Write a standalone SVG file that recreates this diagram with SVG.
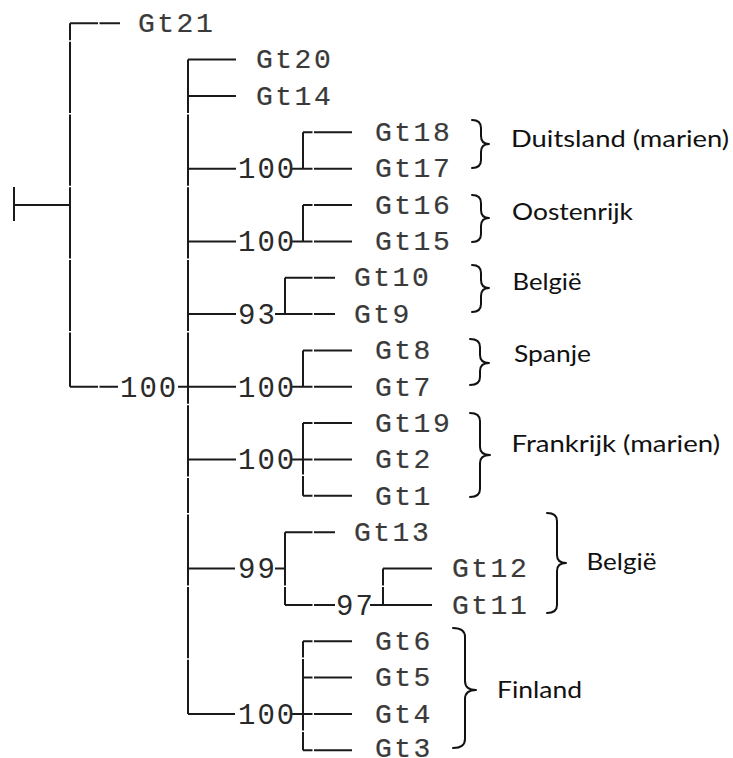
<svg xmlns="http://www.w3.org/2000/svg" width="733" height="758" viewBox="0 0 733 758">
  <style>
    .br { fill: none; stroke: #1a1a1a; stroke-width: 2; stroke-linecap: butt; }
    .brace { fill: none; stroke: #111; stroke-width: 2; stroke-linecap: round; stroke-linejoin: round; }
    .tip { font-family: "Liberation Mono", "DejaVu Sans Mono", monospace; font-size: 28px; letter-spacing: 2.5px; fill: #3a3a3a; stroke: #3a3a3a; stroke-width: 0.2px; }
    .bs { font-family: "Liberation Mono", "DejaVu Sans Mono", monospace; font-size: 29px; letter-spacing: 2px; fill: #2a2a2a; }
    .grp { font-family: Lato, "Open Sans", "Liberation Sans", sans-serif; font-size: 23px; fill: #111; }
  </style>
  <rect width="733" height="758" fill="#fff"/>

  <!-- tree branches -->
  <g id="connectors" class="br">
    <!-- root stub -->
    <path d="M14 187 V221 M14 205 H70"/>
    <!-- outer vertical -->
    <path d="M70 23.3 V40.3 M70 41.8 V113 M70 114.5 V185.7 M70 187.2 V258.4 M70 259.9 V331.1 M70 332.6 V386.8"/>
    <path d="M70 23.3 H98 M99.5 23.3 H120"/>
    <path d="M70 386.8 H98 M99.5 386.8 H118 M178 386.8 H236"/>
    <!-- inner vertical -->
    <path d="M188 59.6 V113 M188 114.5 V185.7 M188 187.2 V258.4 M188 259.9 V331.1 M188 332.6 V403.8 M188 405.3 V476.5 M188 478 V512.9 M188 514.4 V585.6 M188 587.1 V658.3 M188 659.8 V714"/>
    <path d="M188 59.6 H236 M188 96 H236"/>
    <!-- Gt18 / Gt17 -->
    <path d="M188 168.7 H236 M291 168.7 H312.5 M314 168.7 H352 M303 132.3 V168.7 M303 132.3 H312.5 M314 132.3 H352"/>
    <!-- Gt16 / Gt15 -->
    <path d="M188 241.4 H236 M291 241.4 H312.5 M314 241.4 H352 M303 205 V241.4 M303 205 H312.5 M314 205 H352"/>
    <!-- Gt10 / Gt9 -->
    <path d="M188 314.1 H236 M275 314.1 H312.5 M314 314.1 H335 M285 277.7 V314.1 M285 277.7 H312.5 M314 277.7 H335"/>
    <!-- Gt8 / Gt7 -->
    <path d="M291 386.8 H312.5 M314 386.8 H352 M303 350.4 V386.8 M303 350.4 H312.5 M314 350.4 H352"/>
    <!-- Gt19 / Gt2 / Gt1 -->
    <path d="M188 459.5 H236 M291 459.5 H312.5 M314 459.5 H352 M303 423.1 V474.5 M303 476 V495.8 M303 423.1 H312.5 M314 423.1 H352 M303 495.8 H312.5 M314 495.8 H352"/>
    <!-- Gt13 / (Gt12, Gt11) -->
    <path d="M188 568.5 H235 M275 568.5 H285 M285 532.2 V585.6 M285 587.1 V604.9 M285 532.2 H312.5 M314 532.2 H335 M285 604.9 H312.5 M314 604.9 H335"/>
    <path d="M370 604.9 H432 M383 568.5 V585.6 M383 587.1 V604.9 M383 568.5 H432"/>
    <!-- Gt6 / Gt5 / Gt4 / Gt3 -->
    <path d="M188 714 H235 M291 714 H312.5 M314 714 H352 M303 641.2 V657.5 M303 659 V730.5 M303 732 V750.3 M303 641.2 H312.5 M314 641.2 H352 M303 677.6 H312.5 M314 677.6 H352 M303 750.3 H312.5 M314 750.3 H352"/>
  </g>

  <!-- support values -->
  <g id="support">
    <text class="bs" x="120" y="396.5">100</text>
    <text class="bs" x="238" y="178.4">100</text>
    <text class="bs" x="238" y="251.1">100</text>
    <text class="bs" x="238" y="323.8">93</text>
    <text class="bs" x="238" y="396.5">100</text>
    <text class="bs" x="238" y="469.2">100</text>
    <text class="bs" x="238" y="578.2">99</text>
    <text class="bs" x="336" y="614.6">97</text>
    <text class="bs" x="238" y="723.7">100</text>
  </g>

  <!-- leaves -->
  <g id="leaves">
    <text id="Gt21" class="tip" x="138" y="32">Gt21</text>
    <text id="Gt20" class="tip" x="256" y="68.3">Gt20</text>
    <text id="Gt14" class="tip" x="256" y="104.7">Gt14</text>
    <text id="Gt18" class="tip" x="375" y="141">Gt18</text>
    <text id="Gt17" class="tip" x="375" y="177.4">Gt17</text>
    <text id="Gt16" class="tip" x="375" y="213.7">Gt16</text>
    <text id="Gt15" class="tip" x="375" y="250.1">Gt15</text>
    <text id="Gt10" class="tip" x="354" y="286.4">Gt10</text>
    <text id="Gt9" class="tip" x="354" y="322.8">Gt9</text>
    <text id="Gt8" class="tip" x="375" y="359.1">Gt8</text>
    <text id="Gt7" class="tip" x="375" y="395.5">Gt7</text>
    <text id="Gt19" class="tip" x="375" y="431.8">Gt19</text>
    <text id="Gt2" class="tip" x="375" y="468.2">Gt2</text>
    <text id="Gt1" class="tip" x="375" y="504.5">Gt1</text>
    <text id="Gt13" class="tip" x="354" y="540.9">Gt13</text>
    <text id="Gt12" class="tip" x="452" y="577.2">Gt12</text>
    <text id="Gt11" class="tip" x="452" y="613.6">Gt11</text>
    <text id="Gt6" class="tip" x="375" y="649.9">Gt6</text>
    <text id="Gt5" class="tip" x="375" y="686.3">Gt5</text>
    <text id="Gt4" class="tip" x="375" y="722.6">Gt4</text>
    <text id="Gt3" class="tip" x="375" y="757">Gt3</text>
  </g>

  <!-- regional groupings -->
  <g id="group-duitsland">
    <path class="brace" d="M472 120 Q481 120 481 128 V136 Q481 144 489 144 Q481 144 481 152 V160 Q481 168 472 168"/>
    <text class="grp" x="511" y="146.7" textLength="218" lengthAdjust="spacingAndGlyphs">Duitsland (marien)</text>
  </g>
  <g id="group-oostenrijk">
    <path class="brace" d="M472 195 Q481 195 481 203 V210 Q481 218 489 218 Q481 218 481 226 V234 Q481 242 472 242"/>
    <text class="grp" x="512" y="220" textLength="121" lengthAdjust="spacingAndGlyphs">Oostenrijk</text>
  </g>
  <g id="group-belgie-1">
    <path class="brace" d="M472 265 Q481 265 481 273 V280 Q481 288 489 288 Q481 288 481 296 V304 Q481 312 472 312"/>
    <text class="grp" x="512.5" y="290" textLength="69" lengthAdjust="spacingAndGlyphs">België</text>
  </g>
  <g id="group-spanje">
    <path class="brace" d="M470 339 Q480 339 480 347 V355 Q480 363 489 363 Q480 363 480 371 V377 Q480 385 470 385"/>
    <text class="grp" x="514" y="361.7" textLength="77" lengthAdjust="spacingAndGlyphs">Spanje</text>
  </g>
  <g id="group-frankrijk">
    <path class="brace" d="M470 413 Q480 413 480 421 V447 Q480 455 490 455 Q480 455 480 463 V489 Q480 497 470 497"/>
    <text class="grp" x="511.5" y="451.7" textLength="208.5" lengthAdjust="spacingAndGlyphs">Frankrijk (marien)</text>
  </g>
  <g id="group-belgie-2">
    <path class="brace" d="M547 513 Q557 513 557 521 V555 Q557 563 566 563 Q557 563 557 571 V605 Q557 613 547 613"/>
    <text class="grp" x="586.5" y="570" textLength="70" lengthAdjust="spacingAndGlyphs">België</text>
  </g>
  <g id="group-finland">
    <path class="brace" d="M453 628 Q465 628 465 637 V681 Q465 690 476 690 Q465 690 465 699 V739 Q465 748 453 748"/>
    <text class="grp" x="497" y="698" textLength="85" lengthAdjust="spacingAndGlyphs">Finland</text>
  </g>
</svg>
